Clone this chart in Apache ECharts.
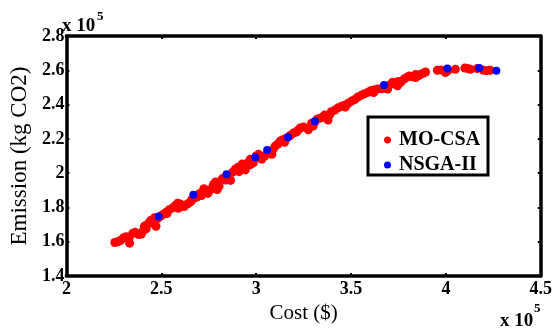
<!DOCTYPE html>
<html>
<head>
<meta charset="utf-8">
<script src="https://cdn.jsdelivr.net/npm/echarts@6/dist/echarts.min.js"></script>
<style>html,body{margin:0;padding:0;background:#fff}#c{width:555px;height:329px}</style>
</head>
<body>
<div id="c"></div>
<script>
// Cost (x 10^5 $), Emission (x 10^5 kg CO2)
const moCsaCost = [2.255,2.270,2.285,2.300,2.315,2.333,2.350,2.362,2.380,2.395,2.405,2.411,2.425,2.440,2.446,2.458,2.472,2.480,2.495,2.507,2.525,2.542,2.560,2.575,2.586,2.600,2.612,2.621,2.640,2.656,2.675,2.690,2.700,2.712,2.725,2.735,2.746,2.760,2.775,2.786,2.795,2.805,2.821,2.835,2.850,2.865,2.875,2.891,2.905,2.926,2.943,2.955,2.969,2.985,3.000,3.013,3.030,3.045,3.060,3.083,3.090,3.100,3.115,3.126,3.140,3.160,3.180,3.196,3.212,3.231,3.250,3.275,3.292,3.310,3.322,3.335,3.348,3.361,3.379,3.396,3.415,3.432,3.450,3.466,3.485,3.501,3.520,3.536,3.555,3.571,3.590,3.606,3.625,3.641,3.660,3.677,3.693,3.705,3.719,3.732,3.745,3.762,3.780,3.795,3.807,3.825,3.841,3.855,3.867,3.880,3.893,3.955,3.975,3.998,4.010,4.050,4.100,4.115,4.129,4.165,4.198,4.215,4.233,2.330,2.420,2.465,2.530,2.590,2.660,2.720,2.780,2.840,2.910,2.970,3.020,3.070,3.150,3.220,3.300,3.390,3.470,3.620,3.750,3.840];
const moCsaEmission = [1.596,1.600,1.607,1.622,1.630,1.592,1.650,1.655,1.642,1.645,1.665,1.691,1.700,1.718,1.726,1.708,1.691,1.735,1.748,1.758,1.772,1.787,1.798,1.812,1.825,1.820,1.810,1.806,1.822,1.834,1.855,1.863,1.880,1.870,1.910,1.900,1.882,1.905,1.935,1.949,1.905,1.925,1.967,1.975,1.985,1.958,2.005,2.025,2.035,2.053,2.019,2.060,2.082,2.060,2.100,2.110,2.082,2.100,2.115,2.110,2.140,2.158,2.170,2.187,2.195,2.205,2.220,2.234,2.240,2.263,2.270,2.253,2.291,2.300,2.315,2.320,2.325,2.339,2.310,2.358,2.368,2.381,2.390,2.396,2.408,2.419,2.430,2.444,2.455,2.463,2.472,2.482,2.487,2.491,2.492,2.495,2.491,2.515,2.530,2.520,2.510,2.530,2.549,2.560,2.567,2.562,2.558,2.568,2.577,2.582,2.590,2.600,2.602,2.587,2.598,2.606,2.613,2.610,2.606,2.610,2.600,2.598,2.600,1.620,1.675,1.740,1.765,1.795,1.845,1.895,1.925,1.960,2.010,2.050,2.090,2.125,2.180,2.250,2.275,2.345,2.385,2.470,2.535,2.575];
const nsgaCost = [2.486,2.669,2.844,2.995,3.058,3.168,3.309,3.674,4.008,4.176,4.266];
const nsgaEmission = [1.747,1.874,1.994,2.093,2.135,2.210,2.303,2.514,2.610,2.613,2.598];
const xTicks = {min: 2, max: 4.5, interval: 0.5};
const yTicks = {min: 1.4, max: 2.8, interval: 0.2};

const serif = 'Liberation Serif';
const chart = echarts.init(document.getElementById('c'), null, {renderer: 'canvas'});
const zip = (a, b) => a.map((v, i) => [v, b[i]]);

const axisCommon = {
  axisLine: {show: true, onZero: false, lineStyle: {color: '#000', width: 3.5}},
  axisTick: {show: true, inside: true, length: 3, lineStyle: {color: '#000', width: 2}},
  splitLine: {show: false}
};
const ttl = (text, left, top, size) => ({
  text: text, left: left, top: top, padding: 0, itemGap: 0, z: 10,
  textStyle: {fontFamily: serif, fontWeight: 'bold', fontSize: size, color: '#000', lineHeight: size}
});

chart.setOption({
  animation: false,
  backgroundColor: '#fff',
  title: [
    ttl('x 10', 62, 17, 19),
    ttl('5', 97, 10, 13),
    ttl('x 10', 500, 312, 19),
    ttl('5', 534, 302, 13)
  ],
  grid: {left: 63, right: 14, top: 36, bottom: 48, containLabel: false},
  xAxis: [
    Object.assign({
      type: 'value', position: 'bottom', min: xTicks.min, max: xTicks.max, interval: xTicks.interval,
      name: 'Cost ($)', nameLocation: 'middle', nameGap: 18,
      nameTextStyle: {fontFamily: serif, fontSize: 21, color: '#000'},
      axisLabel: {fontFamily: serif, fontWeight: 'bold', fontSize: 18, color: '#000', margin: 4}
    }, axisCommon),
    Object.assign({
      type: 'value', position: 'top', min: xTicks.min, max: xTicks.max, interval: xTicks.interval,
      axisLabel: {show: false}
    }, axisCommon)
  ],
  yAxis: [
    Object.assign({
      type: 'value', position: 'left', min: yTicks.min, max: yTicks.max, interval: yTicks.interval,
      name: 'Emission (kg CO2)', nameLocation: 'middle', nameGap: 34,
      nameTextStyle: {fontFamily: serif, fontSize: 23, color: '#000'},
      axisLabel: {fontFamily: serif, fontWeight: 'bold', fontSize: 18, color: '#000', margin: 2}
    }, axisCommon),
    Object.assign({
      type: 'value', position: 'right', min: yTicks.min, max: yTicks.max, interval: yTicks.interval,
      axisLabel: {show: false}
    }, axisCommon)
  ],
  legend: {
    orient: 'vertical', left: 379, top: 125, z: 10,
    itemWidth: 7, itemHeight: 7, itemGap: 5,
    textStyle: {fontFamily: serif, fontWeight: 'bold', fontSize: 20, color: '#000', lineHeight: 20, padding: [0, 0, 0, 3]},
    data: [{name: 'MO-CSA', icon: 'circle'}, {name: 'NSGA-II', icon: 'circle'}]
  },
  graphic: [
    {type: 'rect', z: 5, shape: {x: 368, y: 117, width: 120, height: 58},
     style: {fill: '#fff', stroke: '#000', lineWidth: 3}}
  ],
  series: [
    {name: 'MO-CSA', type: 'scatter', symbol: 'circle', symbolSize: 9,
     itemStyle: {color: '#ff0000', opacity: 1}, data: zip(moCsaCost, moCsaEmission), z: 2},
    {name: 'NSGA-II', type: 'scatter', symbol: 'circle', symbolSize: 8,
     itemStyle: {color: '#0000ff', opacity: 1}, data: zip(nsgaCost, nsgaEmission), z: 3}
  ]
});
</script>
</body>
</html>
